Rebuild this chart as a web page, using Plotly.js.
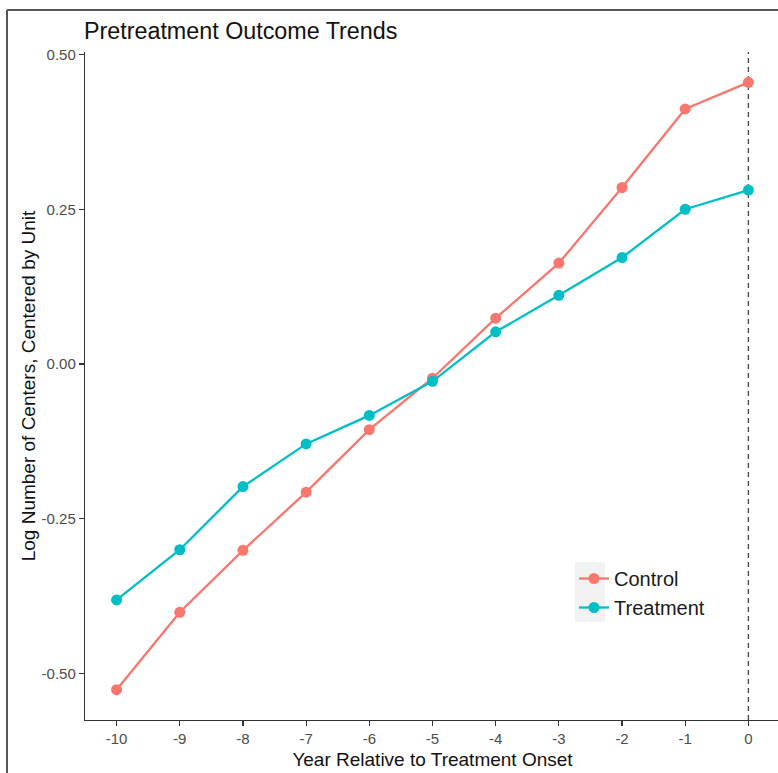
<!DOCTYPE html>
<html>
<head>
<meta charset="utf-8">
<script src="https://cdn.plot.ly/plotly-3.0.1.min.js"></script>
<style>
html, body { margin: 0; padding: 0; overflow: hidden; background: #fff; }
#chart { width: 792px; height: 773px; }
</style>
</head>
<body>
<div id="chart"></div>
<script>
const years = [-10, -9, -8, -7, -6, -5, -4, -3, -2, -1, 0];
const controlValues = [-0.526, -0.401, -0.301, -0.207, -0.106, -0.023, 0.074, 0.163, 0.285, 0.412, 0.455];
const treatmentValues = [-0.381, -0.300, -0.198, -0.129, -0.083, -0.028, 0.052, 0.111, 0.172, 0.250, 0.281];
const xTickVals = [-10, -9, -8, -7, -6, -5, -4, -3, -2, -1, 0];
const yTickVals = [-0.5, -0.25, 0, 0.25, 0.5];
const yTickText = ['-0.50', '-0.25', '0.00', '0.25', '0.50'];

const W = 792, H = 773;
const M = {l: 85, r: 12, t: 52, b: 53};
const pw = W - M.l - M.r, ph = H - M.t - M.b;
const px2x = px => (px - M.l) / pw;
const px2y = py => (H - M.b - py) / ph;

const font = 'Liberation Sans, Arial, sans-serif';

const traces = [
  {x: years, y: controlValues, name: 'Control', mode: 'lines+markers', type: 'scatter',
   line: {color: '#F8766D', width: 2.3}, marker: {color: '#F8766D', size: 11}},
  {x: years, y: treatmentValues, name: 'Treatment', mode: 'lines+markers', type: 'scatter',
   line: {color: '#00BFC4', width: 2.3}, marker: {color: '#00BFC4', size: 11}}
];

const layout = {
  width: W, height: H,
  margin: M,
  paper_bgcolor: '#fff', plot_bgcolor: '#fff',
  font: {family: font, color: '#000'},
  showlegend: true,
  title: {text: 'Pretreatment Outcome Trends', x: 84 / W, xref: 'container', xanchor: 'left',
          y: 1 - 31 / H, yref: 'container', yanchor: 'middle', font: {size: 23.3, color: '#111', family: font}},
  xaxis: {range: [-10.5, 0.5], tickvals: xTickVals, ticktext: xTickVals.map(String),
          showgrid: false, zeroline: false, showline: true, linecolor: '#333', linewidth: 1.2,
          ticks: 'outside', ticklen: 5, tickwidth: 1.2, tickcolor: '#333',
          tickfont: {size: 15, color: '#4D4D4D', family: font},
          title: {text: 'Year Relative to Treatment Onset', font: {size: 19, color: '#111', family: font}, standoff: 6},
          automargin: false, fixedrange: true},
  yaxis: {range: [-0.575, 0.504], tickvals: yTickVals, ticktext: yTickText,
          showgrid: false, zeroline: false, showline: true, linecolor: '#333', linewidth: 1.2,
          ticks: 'outside', ticklen: 5, tickwidth: 1.2, tickcolor: '#333',
          tickfont: {size: 15, color: '#4D4D4D', family: font},
          title: {text: 'Log Number of Centers, Centered by Unit', font: {size: 19, color: '#111', family: font}, standoff: 1},
          automargin: false, fixedrange: true},
  legend: {x: px2x(574), y: px2y(559), xanchor: 'left', yanchor: 'top', bgcolor: 'rgba(0,0,0,0)',
           font: {size: 20, color: '#1a1a1a', family: font}, tracegroupgap: 0, itemwidth: 30},
  shapes: [
    {type: 'rect', xref: 'paper', yref: 'paper', x0: px2x(575), x1: px2x(605), y0: px2y(622), y1: px2y(562),
     fillcolor: '#F2F2F2', line: {width: 0}, layer: 'below'},
    {type: 'line', xref: 'x', yref: 'paper', x0: 0, x1: 0, y0: 0, y1: 1,
     line: {color: '#444', width: 1.3, dash: '5px,4px'}, layer: 'below'},
    {type: 'line', xref: 'paper', yref: 'paper', x0: px2x(7), x1: px2x(7), y0: px2y(10), y1: px2y(780),
     line: {color: '#555', width: 2}},
    {type: 'line', xref: 'paper', yref: 'paper', x0: px2x(7), x1: px2x(800), y0: px2y(10), y1: px2y(10),
     line: {color: '#555', width: 2}}
  ]
};

Plotly.newPlot('chart', traces, layout, {displayModeBar: false, staticPlot: true});
</script>
</body>
</html>
